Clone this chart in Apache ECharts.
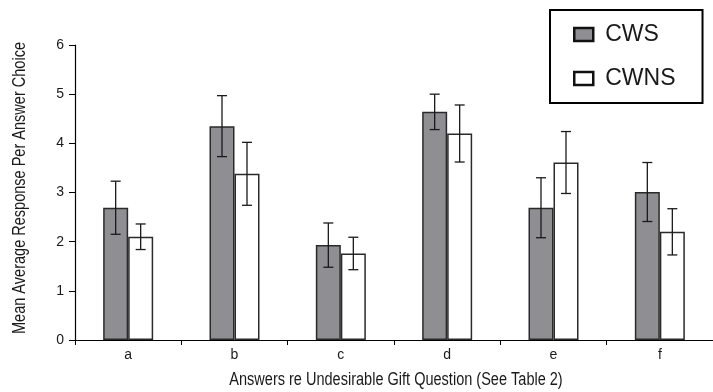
<!DOCTYPE html>
<html>
<head>
<meta charset="utf-8">
<script src="https://cdn.jsdelivr.net/npm/echarts@6/dist/echarts.min.js"></script>
<style>html,body{margin:0;padding:0;background:#fff;}#c{width:713px;height:392px;}</style>
</head>
<body>
<div id="c"></div>
<script>
var categories = ['a', 'b', 'c', 'd', 'e', 'f'];
var cwsMean = [2.69, 4.35, 1.93, 4.64, 2.69, 3.01];
var cwsErr = [0.54, 0.62, 0.45, 0.36, 0.61, 0.60];
var cwnsMean = [2.10, 3.38, 1.76, 4.20, 3.61, 2.20];
var cwnsErr = [0.26, 0.64, 0.33, 0.58, 0.63, 0.47];
var yTicks = [0, 1, 2, 3, 4, 5, 6];
var yTitle = 'Mean Average Response Per Answer Choice';
var xTitle = 'Answers re Undesirable Gift Question (See Table 2)';

var BAR_W = 25;
var font = '"Liberation Sans", Arial, sans-serif';

function errSeries(name, means, errs, side) {
  var data = means.map(function (m, i) { return [i, m - errs[i], m + errs[i]]; });
  return {
    type: 'custom',
    name: name + ' err',
    silent: true,
    z: 5,
    data: data,
    encode: { x: 0, y: [1, 2] },
    renderItem: function (params, api) {
      var lo = api.coord([api.value(0), api.value(1)]);
      var hi = api.coord([api.value(0), api.value(2)]);
      var x = lo[0] + side * BAR_W / 2;
      var cap = 5;
      var st = { stroke: '#1a1a1a', lineWidth: 1.3 };
      return {
        type: 'group',
        children: [
          { type: 'line', shape: { x1: x, y1: lo[1], x2: x, y2: hi[1] }, style: st },
          { type: 'line', shape: { x1: x - cap, y1: hi[1], x2: x + cap, y2: hi[1] }, style: st },
          { type: 'line', shape: { x1: x - cap, y1: lo[1], x2: x + cap, y2: lo[1] }, style: st }
        ]
      };
    }
  };
}

var chart = echarts.init(document.getElementById('c'));
chart.setOption({
  animation: false,
  backgroundColor: '#fff',
  textStyle: { fontFamily: font },
  grid: { left: 75, top: 45, width: 642, height: 295, containLabel: false },
  graphic: [{
    type: 'text',
    x: 20,
    y: 188,
    rotation: Math.PI / 2,
    scaleX: 0.83,
    style: {
      text: yTitle,
      fontSize: 17.5,
      fontFamily: font,
      fill: '#1a1a1a',
      align: 'center',
      verticalAlign: 'middle'
    }
  }, {
    type: 'text',
    x: 396,
    y: 380,
    scaleX: 0.83,
    style: {
      text: xTitle,
      fontSize: 17.5,
      fontFamily: font,
      fill: '#1a1a1a',
      align: 'center',
      verticalAlign: 'middle'
    }
  }],
  legend: {
    orient: 'vertical',
    left: 550,
    top: 10,
    data: [
      { name: 'CWS', itemStyle: { color: '#8f8f93', borderColor: '#111', borderWidth: 2.5 } },
      { name: 'CWNS', itemStyle: { color: '#fff', borderColor: '#111', borderWidth: 2.5 } }
    ],
    icon: 'rect',
    itemWidth: 19,
    itemHeight: 13,
    itemGap: 21,
    padding: [13, 27, 13, 23],
    backgroundColor: '#fff',
    borderColor: '#000',
    borderWidth: 2,
    borderRadius: 0,
    textStyle: { fontSize: 23, color: '#1a1a1a', fontFamily: font, padding: [0, 0, 0, 7] }
  },
  xAxis: {
    type: 'category',
    data: categories,
    axisLine: { lineStyle: { color: '#000', width: 1.2 } },
    axisTick: { show: true, length: 5, lineStyle: { color: '#000' } },
    axisLabel: { fontSize: 14, color: '#1a1a1a', margin: 8, fontFamily: font }
  },
  yAxis: {
    type: 'value',
    min: 0,
    max: 6,
    interval: 1,
    axisLine: { show: true, lineStyle: { color: '#000', width: 1.2 } },
    axisTick: { show: true, length: 6, lineStyle: { color: '#000' } },
    axisLabel: {
      fontSize: 14, color: '#1a1a1a', margin: 11, fontFamily: font,
      formatter: function (v) { return yTicks.indexOf(v) >= 0 ? String(v) : ''; }
    },
    splitLine: { show: false }
  },
  series: [
    {
      name: 'CWS', type: 'bar', data: cwsMean, barWidth: BAR_W, barGap: '0%',
      itemStyle: { color: '#8f8f93', borderColor: '#2a2a2a', borderWidth: 1.5 }
    },
    {
      name: 'CWNS', type: 'bar', data: cwnsMean, barWidth: BAR_W, barGap: '0%',
      itemStyle: { color: '#fff', borderColor: '#2a2a2a', borderWidth: 1.5 }
    },
    errSeries('CWS', cwsMean, cwsErr, -1),
    errSeries('CWNS', cwnsMean, cwnsErr, 1)
  ]
});
</script>
</body>
</html>
